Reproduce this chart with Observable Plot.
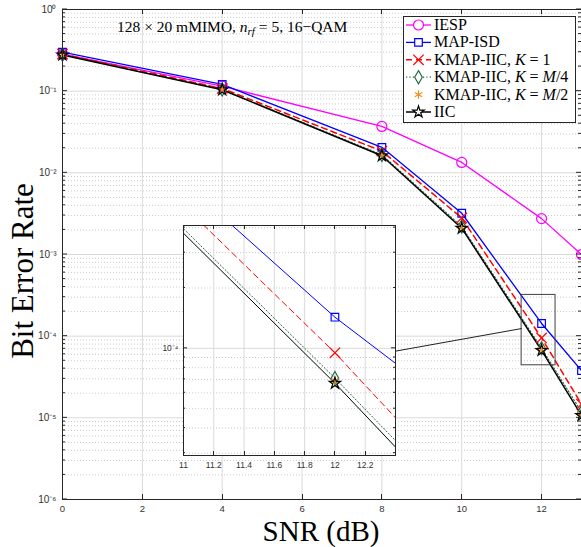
<!DOCTYPE html>
<html><head><meta charset="utf-8">
<script src="https://cdn.jsdelivr.net/npm/d3@7"></script>
<script src="https://cdn.jsdelivr.net/npm/@observablehq/plot@0.6"></script>
<style>
body{margin:0;background:#fff}
#wrap{position:relative;width:581px;height:547px;overflow:hidden}
#wrap svg{position:absolute;overflow:visible}
</style></head><body><div id="wrap"></div>
<script>
// ---------- data ----------
const snr      = [0, 4, 8, 10, 12, 13];
const iesp     = [0.285, 0.115, 0.037, 0.0134, 0.00275, 0.00100];
const mapIsd   = [0.300, 0.121, 0.0205, 0.0032, 0.000143, 0.000038];
const kmap1    = [0.285, 0.108, 0.0185, 0.0028, 0.000095, 0.0000147];
const kmapM4   = [0.280, 0.105, 0.0166, 0.0022, 0.000071, 0.0000118];
const kmapM2   = [0.279, 0.105, 0.0164, 0.00215, 0.000069, 0.0000112];
const iic      = [0.278, 0.104, 0.0162, 0.0021, 0.000067, 0.0000107];
const seriesNames = ["IESP", "MAP-ISD", "KMAP-IIC, K = 1", "KMAP-IIC, K = M/4", "KMAP-IIC, K = M/2", "IIC"];
const seriesValues = [iesp, mapIsd, kmap1, kmapM4, kmapM2, iic];
const xTicks = [0, 2, 4, 6, 8, 10, 12];
const yTicks = [1e-6, 1e-5, 1e-4, 1e-3, 1e-2, 1e-1, 1];
const insetXTicks = [11, 11.2, 11.4, 11.6, 11.8, 12, 12.2];
const insetYTicks = [1e-4];
const titleText = "128 × 20 mMIMO, ";
const xLabel = "SNR (dB)";
const yLabel = "Bit Error Rate";
const zoomBox = [{x1: 11.5, x2: 12.35, y1: 4.4e-5, y2: 3.2e-4}];
const connector = [{x1: 8.3, y1: 6.5e-5, x2: 11.5, y2: 1.24e-4}];

// ---------- styles ----------
const styles = [
  {color: "#ff00ff", dash: null, line: true, symbol: "circle", r: 5, w: 1.3},
  {color: "#0000ff", dash: null, line: true, symbol: "square", r: 4.3, w: 1.3},
  {color: "#ff0000", dash: "6,4", line: true, symbol: "times", r: 4.8, w: 1.5},
  {color: "#2a6a46", dash: "1.2,2.2", line: true, symbol: "diamond", r: 4.0, w: 1.2},
  {color: "#e8901e", dash: null, line: false, symbol: "asterisk", r: 4.0, w: 1.2},
  {color: "#000000", dash: null, line: true, symbol: "star", r: 3.6, w: 1.5}
];
const symMap = {circle: d3.symbolCircle, square: d3.symbolSquare, times: d3.symbolTimes,
  diamond: d3.symbolDiamond, asterisk: d3.symbolAsterisk, star: d3.symbolStar};

const rows = seriesNames.map((name, i) => snr.map((x, j) => ({x, y: seriesValues[i][j], s: name})));

const sup = {"-": "⁻", "0": "⁰", "1": "¹", "2": "²", "3": "³", "4": "⁴", "5": "⁵", "6": "⁶", "7": "⁷", "8": "⁸", "9": "⁹"};
const fmtPow = v => "10" + String(Math.round(Math.log10(v))).split("").map(c => sup[c]).join("");

const minorY = [];
for (let e = -6; e < 0; e++) for (let k = 2; k <= 9; k++) minorY.push(k * Math.pow(10, e));

function seriesMarks(clip, lw) {
  const out = [];
  rows.forEach((r, i) => {
    const st = styles[i];
    if (st.line) out.push(Plot.line(r, {x: "x", y: "y", stroke: st.color, strokeWidth: lw ? lw : st.w,
      strokeDasharray: st.dash, clip}));
  });
  rows.forEach((r, i) => {
    const st = styles[i];
    out.push(Plot.dot(r, {x: "x", y: "y", symbol: st.symbol, r: st.r, stroke: st.color, fill: "none",
      strokeWidth: 1.2, clip}));
  });
  return out;
}

const FONT = "'Liberation Sans', Arial, sans-serif";
const SERIF = "'Liberation Serif', 'Times New Roman', serif";

const main = Plot.plot({
  width: 581, height: 547,
  marginLeft: 62, marginRight: 0, marginTop: 9, marginBottom: 48,
  style: {background: "transparent", fontFamily: FONT, color: "#262626"},
  x: {domain: [0, 13]},
  y: {type: "log", domain: [1e-6, 1]},
  marks: [
    Plot.ruleY(minorY, {stroke: "#bdbdbd", strokeDasharray: "1,2", strokeWidth: 0.8}),
    Plot.gridX(xTicks, {stroke: "#dadada", strokeOpacity: 1}),
    Plot.gridY(yTicks, {stroke: "#dadada", strokeOpacity: 1}),
    ...seriesMarks(false),
    Plot.rect(zoomBox, {x1: "x1", x2: "x2", y1: "y1", y2: "y2", fill: "none", stroke: "#404040", strokeWidth: 1}),
    Plot.link(connector, {x1: "x1", y1: "y1", x2: "x2", y2: "y2", stroke: "#202020", strokeWidth: 1}),
    Plot.axisX(xTicks, {tickSize: 0, tickPadding: 6, fontSize: 9.5, fill: "#333", label: null}),
    Plot.axisY(yTicks, {tickSize: 0, tickPadding: 6, fontSize: 10, fill: "#333", tickFormat: fmtPow, label: null}),
    Plot.frame({stroke: "#262626"})
  ]
});
main.style.left = "0px"; main.style.top = "0px";
document.getElementById("wrap").appendChild(main);

function inwardTicks(plot, xt, yt, ym, major, minor) {
  const sx = plot.scale("x"), sy = plot.scale("y");
  const [x0, x1] = sx.range, [y0, y1] = sy.range; // y0 bottom, y1 top
  const g = d3.select(plot).append("g").attr("stroke", "#262626").attr("stroke-width", 1);
  xt.forEach(v => {
    const p = Math.round(sx.apply(v)) + 0.5;
    g.append("line").attr("x1", p).attr("x2", p).attr("y1", y0).attr("y2", y0 - major);
    g.append("line").attr("x1", p).attr("x2", p).attr("y1", y1).attr("y2", y1 + major);
  });
  const yl = (v, len) => {
    const p = sy.apply(v);
    g.append("line").attr("x1", x0).attr("x2", x0 + len).attr("y1", p).attr("y2", p);
    g.append("line").attr("x1", x1).attr("x2", x1 - len).attr("y1", p).attr("y2", p);
  };
  yt.forEach(v => yl(v, major));
  ym.forEach(v => yl(v, minor));
}
inwardTicks(main, xTicks, yTicks, minorY, 5, 3);

const svg = d3.select(main);
// title
const t = svg.append("text").attr("x", 117).attr("y", 32).attr("font-family", SERIF)
  .attr("text-anchor", "start").attr("font-size", 15.5).attr("fill", "#000");
t.append("tspan").text(titleText);
t.append("tspan").attr("font-style", "italic").text("n");
t.append("tspan").attr("font-style", "italic").attr("font-size", 11).attr("dy", 3).text("rf");
t.append("tspan").attr("dy", -3).text(" = 5, 16−QAM");

// axis labels
svg.append("text").attr("x", 321).attr("y", 541).attr("text-anchor", "middle")
  .attr("font-family", SERIF).attr("font-size", 29).attr("fill", "#000").text(xLabel);
svg.append("text").attr("transform", "translate(33,271) rotate(-90)").attr("text-anchor", "middle")
  .attr("font-family", SERIF).attr("font-size", 31).attr("fill", "#000").text(yLabel);

// legend
const leg = svg.append("g");
leg.append("rect").attr("x", 403.5).attr("y", 16.5).attr("width", 172).attr("height", 106)
  .attr("fill", "white").attr("stroke", "#262626");
seriesNames.forEach((name, i) => {
  const st = styles[i];
  const cy = 25 + i * 17.4;
  if (st.line) leg.append("line").attr("x1", 406).attr("x2", 431).attr("y1", cy).attr("y2", cy)
    .attr("stroke", st.color).attr("stroke-width", st.w).attr("stroke-dasharray", st.dash);
  leg.append("path").attr("transform", `translate(418.5,${cy})`)
    .attr("d", d3.symbol(symMap[st.symbol], Math.PI * st.r * st.r)())
    .attr("fill", "white").attr("stroke", st.color).attr("stroke-width", 1.2);
  const tx = leg.append("text").attr("x", 434).attr("y", cy + 5).attr("font-family", SERIF)
    .attr("text-anchor", "start").attr("font-size", 16).attr("fill", "#000");
  name.split(/\b([KM])\b/).forEach((part, k) => {
    if (!part) return;
    const ts = tx.append("tspan").text(part);
    if (k % 2 === 1) ts.attr("font-style", "italic");
  });
});

// inset
const insetMinor = [3e-5, 4e-5, 5e-5, 6e-5, 7e-5, 8e-5, 9e-5, 2e-4, 3e-4, 4e-4];
const inset = Plot.plot({
  width: 254, height: 252,
  marginLeft: 40, marginRight: 2, marginTop: 2, marginBottom: 20,
  style: {background: "transparent", fontFamily: FONT, color: "#262626"},
  x: {domain: [11, 12.4]},
  y: {type: "log", domain: [2.92e-5, 4.1e-4]},
  marks: [
    Plot.frame({fill: "white", stroke: "none"}),
    Plot.ruleY(insetMinor, {stroke: "#bdbdbd", strokeDasharray: "1,2", strokeWidth: 0.8}),
    Plot.gridX(insetXTicks, {stroke: "#dadada", strokeOpacity: 1}),
    Plot.gridY(insetYTicks, {stroke: "#dadada", strokeOpacity: 1}),
    ...seriesMarks(true, 1),
    Plot.axisX(insetXTicks, {tickSize: 0, tickPadding: 6, fontSize: 8.5, fill: "#333",
      tickFormat: d => d3.format("~g")(d), label: null}),
    Plot.axisY(insetYTicks, {tickSize: 0, tickPadding: 5, fontSize: 8.5, fill: "#333",
      tickFormat: fmtPow, label: null}),
    Plot.frame({stroke: "#262626"})
  ]
});
inset.style.left = "143px"; inset.style.top = "223px";
document.getElementById("wrap").appendChild(inset);
inwardTicks(inset, insetXTicks, insetYTicks, insetMinor, 4, 2);
</script></body></html>
